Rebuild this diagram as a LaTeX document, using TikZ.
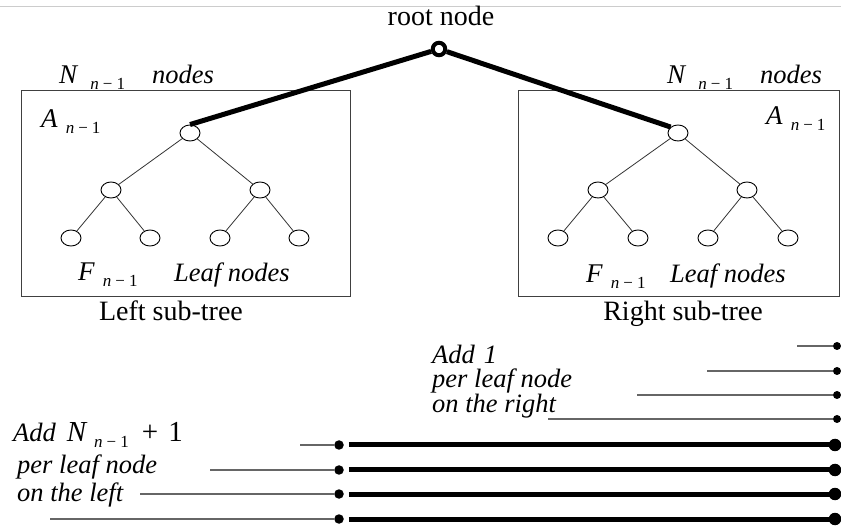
\documentclass[tikz,border=0pt]{standalone}
\usepackage{fontspec}
\setmainfont{Liberation Serif}
\usetikzlibrary{shapes.geometric}
\newcommand{\subnm}{\raisebox{-5.5pt}{\fontsize{17}{19}\selectfont\itshape n\hspace{4pt}\upshape −\hspace{4pt}1}}
\begin{document}
\begin{tikzpicture}[x=1pt,y=-1pt,
 tn/.style={ellipse, draw, line width=0.9pt, minimum width=20pt, minimum height=16pt, inner sep=0pt},
 edge/.style={line width=0.8pt, draw=black!80},
 box/.style={draw=black!75, line width=1pt},
 heavy/.style={line width=5pt},
 thinline/.style={line width=1.3pt, draw=black!60},
 up/.style={font=\fontsize{28}{30}\selectfont, inner sep=0pt},
 itl/.style={font=\fontsize{26.5}{28}\selectfont\itshape, inner sep=0pt},
 ml/.style={font=\fontsize{27}{29}\selectfont, inner sep=0pt},
 sdot/.style={circle, fill=black, inner sep=0pt, minimum size=8pt},
 mdot/.style={circle, fill=black, inner sep=0pt, minimum size=9.5pt},
 bdot/.style={circle, fill=black, inner sep=0pt, minimum size=12.5pt},
]
\useasboundingbox (0,0) rectangle (841,526);
% top rule
\coordinate (tl) at (0,7);
\coordinate (tr) at (841,7);
\draw[black!20, line width=1pt] (tl) -- (tr);

% boxes
\node[box, inner sep=0pt, minimum width=329pt, minimum height=206pt] (boxL) at (185.5,194) {};
\node[box, inner sep=0pt, minimum width=321pt, minimum height=206pt] (boxR) at (678.5,194) {};

% root
\node[up, anchor=base] (rootlbl) at (441,26) {root node};
\node[circle, draw, line width=4pt, minimum size=12.5pt, inner sep=0pt] (root) at (439,49) {};

% left tree
\node[tn] (l0) at (190,133) {};
\node[tn] (l1) at (111,190) {};
\node[tn] (l2) at (260,190) {};
\node[tn] (l3) at (71,238) {};
\node[tn] (l4) at (150,238) {};
\node[tn] (l5) at (220,238) {};
\node[tn] (l6) at (299,238) {};
\draw[edge] (l0) -- (l1);
\draw[edge] (l0) -- (l2);
\draw[edge] (l1) -- (l3);
\draw[edge] (l1) -- (l4);
\draw[edge] (l2) -- (l5);
\draw[edge] (l2) -- (l6);

% right tree
\node[tn] (r0) at (678,133) {};
\node[tn] (r1) at (598,190) {};
\node[tn] (r2) at (747,190) {};
\node[tn] (r3) at (558,238) {};
\node[tn] (r4) at (638,238) {};
\node[tn] (r5) at (708,238) {};
\node[tn] (r6) at (788,238) {};
\draw[edge] (r0) -- (r1);
\draw[edge] (r0) -- (r2);
\draw[edge] (r1) -- (r3);
\draw[edge] (r1) -- (r4);
\draw[edge] (r2) -- (r5);
\draw[edge] (r2) -- (r6);

% root connections
\draw[heavy] (root) -- (l0.north);
\draw[heavy] (root) -- (r0.north west);

% left tree labels
\node[ml, anchor=base west] (nL) at (59,84) {\textit{N}\hspace{12pt}\subnm};
\node[itl, anchor=base west] (nodesL) at (152,84) {nodes};
\node[ml, anchor=base west] (aL) at (41,128) {\textit{A}\hspace{8pt}\subnm};
\node[ml, anchor=base west] (fL) at (78,281) {\textit{F}\hspace{8pt}\subnm};
\node[itl, anchor=base west] (leafL) at (174,282) {Leaf nodes};
\node[up, anchor=base] (subL) at (171,321) {Left sub-tree};

% right tree labels
\node[ml, anchor=base west] (nR) at (667,84) {\textit{N}\hspace{12pt}\subnm};
\node[itl, anchor=base west] (nodesR) at (760,84) {nodes};
\node[ml, anchor=base west] (aR) at (766,125) {\textit{A}\hspace{8pt}\subnm};
\node[ml, anchor=base west] (fR) at (586,283) {\textit{F}\hspace{8pt}\subnm};
\node[itl, anchor=base west] (leafR) at (670,283) {Leaf nodes};
\node[up, anchor=base] (subR) at (683,321) {Right sub-tree};

% right-side annotation
\node[itl, anchor=base west] (add1) at (432,364) {Add\hspace{9pt}1};
\node[itl, anchor=base west] (plr) at (432,388) {per leaf node};
\node[itl, anchor=base west] (otr) at (432,413) {on the right};

% left-side annotation
\node[itl, anchor=base west] (addN) at (13,442) {Add\hspace{11pt}{\upshape\fontsize{29}{31}\selectfont\itshape N}\hspace{8pt}\subnm\hspace{13pt}{\upshape\fontsize{29}{31}\selectfont + \hspace{3pt}1}};
\node[itl, anchor=base west] (pll) at (17,474) {per leaf node};
\node[itl, anchor=base west] (otl) at (17,501) {on the left};

% right short lines
\coordinate (s1) at (797,346);
\coordinate (s2) at (707,371);
\coordinate (s3) at (637,395);
\coordinate (s4) at (548,419);
\node[sdot] (e1) at (837,346) {};
\node[sdot] (e2) at (837,371) {};
\node[sdot] (e3) at (837,395) {};
\node[sdot] (e4) at (837,419) {};
\draw[thinline] (s1) -- (e1);
\draw[thinline] (s2) -- (e2);
\draw[thinline] (s3) -- (e3);
\draw[thinline] (s4) -- (e4);

% long heavy lines
\coordinate (a1) at (300,445);
\coordinate (a2) at (210,470);
\coordinate (a3) at (140,494);
\coordinate (a4) at (50,519);
\node[mdot] (m1) at (339,445) {};
\node[mdot] (m2) at (339,470) {};
\node[mdot] (m3) at (339,494) {};
\node[mdot] (m4) at (339,519) {};
\node[bdot] (b1) at (835,445) {};
\node[bdot] (b2) at (835,470) {};
\node[bdot] (b3) at (835,494) {};
\node[bdot] (b4) at (835,519) {};
\draw[thinline] (a1) -- (m1);
\draw[thinline] (a2) -- (m2);
\draw[thinline] (a3) -- (m3);
\draw[thinline] (a4) -- (m4);
\draw[heavy] ([xshift=5pt]m1.east) -- (b1.center);
\draw[heavy] ([xshift=5pt]m2.east) -- (b2.center);
\draw[heavy] ([xshift=5pt]m3.east) -- (b3.center);
\draw[heavy] ([xshift=5pt]m4.east) -- (b4.center);
\end{tikzpicture}
\end{document}
